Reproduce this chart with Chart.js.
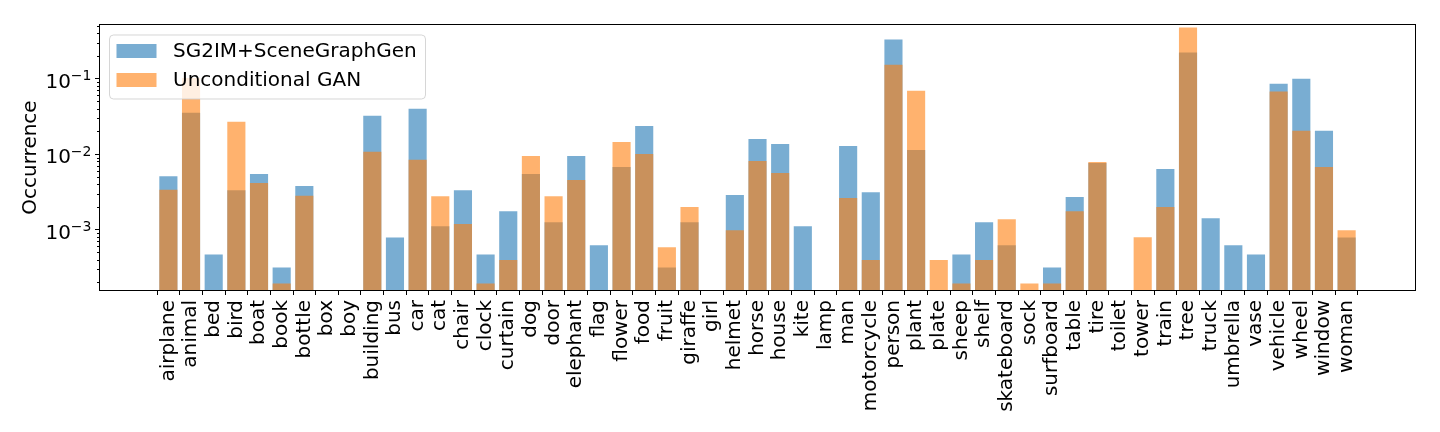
<!DOCTYPE html>
<html>
<head>
<meta charset="utf-8">
<script src="https://cdn.jsdelivr.net/npm/chart.js@4.4.0/dist/chart.umd.min.js"></script>
<style>
    body { margin: 0; background: #fff; }
    #wrap { width: 1440px; height: 432px; }
</style>
</head>
<body>
<div id="wrap"><canvas id="occurrence-chart" width="1440" height="432"></canvas></div>
<script>
// Object occurrence per category, log scale

const categories = ['airplane', 'animal', 'bed', 'bird', 'boat', 'book', 'bottle', 'box', 'boy', 'building',
    'bus', 'car', 'cat', 'chair', 'clock', 'curtain', 'dog', 'door', 'elephant', 'flag',
    'flower', 'food', 'fruit', 'giraffe', 'girl', 'helmet', 'horse', 'house', 'kite', 'lamp',
    'man', 'motorcycle', 'person', 'plant', 'plate', 'sheep', 'shelf', 'skateboard', 'sock', 'surfboard',
    'table', 'tire', 'toilet', 'tower', 'train', 'tree', 'truck', 'umbrella', 'vase', 'vehicle',
    'wheel', 'window', 'woman'];

const sg2imValues = [5.1e-3, 0.0353, 4.7e-4, 3.34e-3, 5.46e-3, 3.16e-4, 3.78e-3, null, null, 0.0322,
    7.9e-4, 0.0399, 1.11e-3, 3.34e-3, 4.7e-4, 1.76e-3, 5.46e-3, 1.25e-3, 9.46e-3, 6.2e-4,
    6.76e-3, 0.0237, 3.16e-4, 1.25e-3, null, 2.87e-3, 0.0159, 0.01367, 1.11e-3, null,
    0.01285, 3.14e-3, 0.330, 0.01137, null, 4.7e-4, 1.25e-3, 6.2e-4, null, 3.16e-4,
    2.70e-3, 7.63e-3, null, null, 6.35e-3, 0.222, 1.42e-3, 6.2e-4, 4.7e-4, 0.0859,
    0.100, 0.0204, 7.9e-4];

const uncondValues = [3.37e-3, 0.102, null, 0.0268, 4.14e-3, 1.94e-4, 2.81e-3, null, null, 0.0108,
    null, 8.45e-3, 2.78e-3, 1.19e-3, 1.94e-4, 3.96e-4, 9.46e-3, 2.78e-3, 4.54e-3, null,
    0.01452, 0.01007, 5.83e-4, 1.99e-3, null, 9.8e-4, 8.12e-3, 5.62e-3, null, null,
    2.62e-3, 3.96e-4, 0.1535, 0.0692, 3.96e-4, 1.94e-4, 3.96e-4, 1.37e-3, 1.94e-4, 1.94e-4,
    1.76e-3, 7.87e-3, null, 7.92e-4, 1.99e-3, 0.476, null, null, null, 0.0679,
    0.0204, 6.76e-3, 9.82e-4];

const yMajorTicks = [1e-3, 1e-2, 1e-1];
const yTickBase = '10';
const yTickExponents = ['\u22123', '\u22122', '\u22121'];

const Y_MIN = 1.563e-4;
const Y_MAX = 0.5224;
const FONT = 'DejaVu Sans';
const FONT_SIZE = 20;

function toPoints(values) {
    return values.map((v, i) => ({ x: i, y: v }));
}

function majorIndex(value) {
    return yMajorTicks.findIndex(m => Math.abs(m - value) / m < 1e-6);
}

// frame, minor ticks, 10^n labels and legend box drawn on top
const framePlugin = {
    id: 'frame',
    afterDraw(chart) {
        const { ctx, chartArea } = chart;
        const yScale = chart.scales.y;
        ctx.save();

        // minor y ticks
        ctx.strokeStyle = '#000';
        ctx.lineWidth = 1;
        yScale.ticks.forEach(t => {
            if (t.major) return;
            const py = Math.round(yScale.getPixelForValue(t.value)) + 0.5;
            ctx.beginPath();
            ctx.moveTo(chartArea.left - 2.5, py);
            ctx.lineTo(chartArea.left, py);
            ctx.stroke();
        });

        // y tick labels with superscript exponent
        ctx.fillStyle = '#000';
        ctx.textBaseline = 'alphabetic';
        ctx.textAlign = 'left';
        const bigFont = FONT_SIZE + 'px "' + FONT + '"';
        const supFont = Math.round(FONT_SIZE * 0.7) + 'px "' + FONT + '"';
        yMajorTicks.forEach((m, i) => {
            const py = yScale.getPixelForValue(m);
            ctx.font = supFont;
            const supW = ctx.measureText(yTickExponents[i]).width;
            ctx.font = bigFont;
            const baseW = ctx.measureText(yTickBase).width;
            const right = chartArea.left - 8;
            const x0 = right - supW - baseW;
            ctx.fillText(yTickBase, x0, py + 9);
            ctx.font = supFont;
            ctx.fillText(yTickExponents[i], x0 + baseW, py + 1.7);
        });

        // legend
        const lx = chartArea.left + 10, ly = chartArea.top + 10.5;
        const lw = 316, lh = 64;
        ctx.beginPath();
        ctx.roundRect(lx, ly, lw, lh, 4);
        ctx.fillStyle = 'rgba(255, 255, 255, 0.8)';
        ctx.fill();
        ctx.strokeStyle = 'rgba(204, 204, 204, 0.8)';
        ctx.stroke();

        const legendOrder = [0, 1];
        ctx.font = bigFont;
        ctx.textBaseline = 'middle';
        ctx.textAlign = 'left';
        legendOrder.forEach((di, row) => {
            const ds = chart.data.datasets[di];
            const ry = ly + 9 + row * 29;
            ctx.fillStyle = ds.backgroundColor;
            ctx.fillRect(lx + 7, ry, 40, 14);
            ctx.fillStyle = '#000';
            ctx.fillText(ds.label, lx + 63.5, ry + 7.5);
        });

        // axes frame
        ctx.strokeStyle = '#000';
        ctx.lineWidth = 1;
        ctx.strokeRect(chartArea.left, chartArea.top, chartArea.right - chartArea.left, chartArea.bottom - chartArea.top);
        ctx.restore();
    }
};

const occurrenceChart = new Chart(document.getElementById('occurrence-chart'), {
    type: 'bar',
    data: {
        datasets: [
            {
                label: 'SG2IM+SceneGraphGen',
                data: toPoints(sg2imValues),
                backgroundColor: 'rgba(31, 119, 180, 0.6)',
                order: 1
            },
            {
                label: 'Unconditional GAN',
                data: toPoints(uncondValues),
                backgroundColor: 'rgba(255, 127, 14, 0.6)',
                order: 0
            }
        ]
    },
    options: {
        responsive: false,
        devicePixelRatio: 1,
        animation: false,
        layout: { padding: { left: 0, top: 24.5, right: 24.5, bottom: 0 } },
        datasets: {
            bar: { grouped: false, categoryPercentage: 1.0, barPercentage: 0.8, borderWidth: 0 }
        },
        plugins: {
            legend: { display: false },
            tooltip: { enabled: false }
        },
        scales: {
            x: {
                type: 'linear',
                min: -3.04,
                max: 55.04,
                offset: false,
                afterBuildTicks: scale => {
                    scale.ticks = categories.map((c, i) => ({ value: i }));
                },
                afterFit: scale => { scale.height = 141.5; },
                ticks: {
                    autoSkip: false,
                    maxRotation: 90,
                    minRotation: 90,
                    padding: 5,
                    color: '#000',
                    font: { family: FONT, size: FONT_SIZE },
                    callback: value => categories[value]
                },
                grid: { display: true, drawOnChartArea: false, drawTicks: true, tickLength: 4.5, tickColor: '#000' },
                border: { display: false }
            },
            y: {
                type: 'logarithmic',
                min: Y_MIN,
                max: Y_MAX,
                afterBuildTicks: scale => {
                    const ticks = [];
                    [1e-4, 1e-3, 1e-2, 1e-1].forEach(d => {
                        for (let k = 1; k <= 9; k++) {
                            const v = k * d;
                            if (v >= Y_MIN && v <= Y_MAX) ticks.push({ value: v, major: k === 1 });
                        }
                    });
                    scale.ticks = ticks;
                },
                afterFit: scale => { scale.width = 99.5; },
                title: {
                    display: true,
                    text: 'Occurrence',
                    color: '#000',
                    font: { family: FONT, size: FONT_SIZE },
                    padding: { top: 19, bottom: 0 }
                },
                ticks: {
                    autoSkip: false,
                    padding: 4,
                    font: { family: FONT, size: FONT_SIZE },
                    callback: () => ''
                },
                grid: {
                    display: true,
                    drawOnChartArea: false,
                    drawTicks: true,
                    tickLength: 4.5,
                    tickColor: c => (c.tick && c.tick.major) ? '#000' : 'rgba(0,0,0,0)'
                },
                border: { display: false }
            }
        }
    },
    plugins: [framePlugin]
});
</script>
</body>
</html>
